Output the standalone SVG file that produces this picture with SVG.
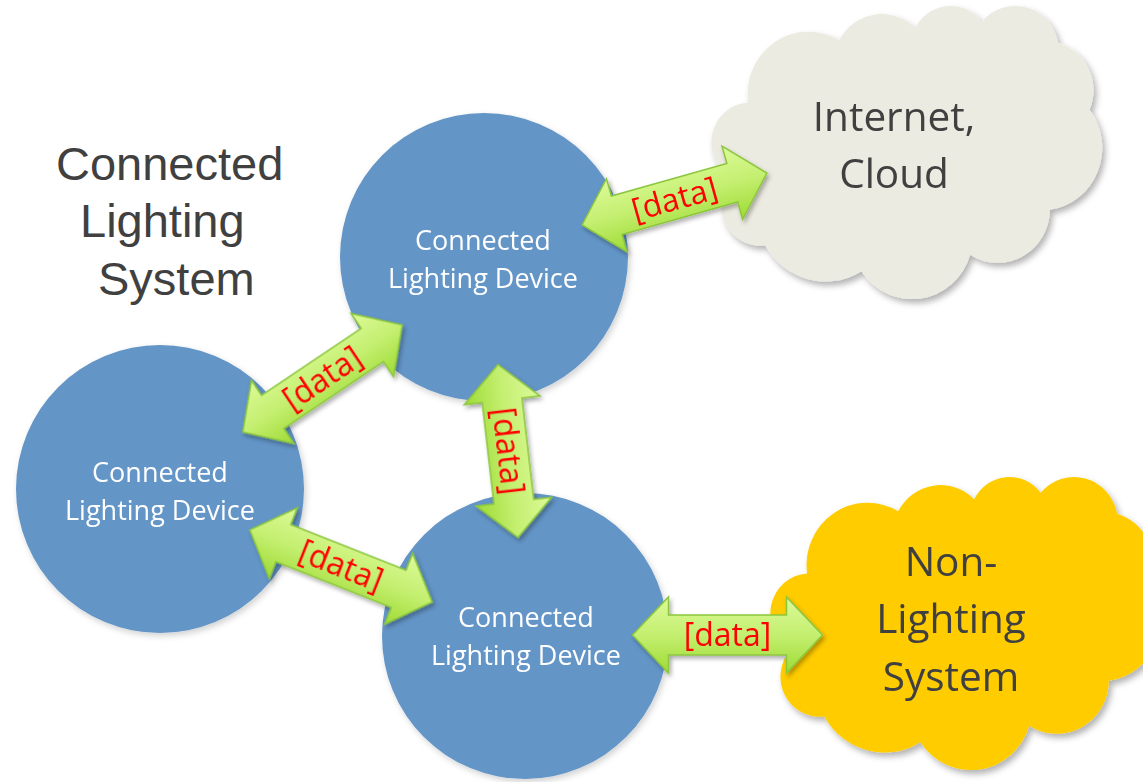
<svg xmlns="http://www.w3.org/2000/svg" xmlns:xlink="http://www.w3.org/1999/xlink" width="1143" height="782" viewBox="0 0 1143 782">
  <style>
    .device { fill: #6395c7; }
    .devtxt { font-family: "Open Sans", "Noto Sans", sans-serif; font-size: 27px; fill: #ffffff; text-anchor: middle; }
    .title { font-family: "Liberation Sans", Arial, sans-serif; font-size: 47px; fill: #404040; }
    .cloudtxt { font-family: "Open Sans", "Noto Sans", sans-serif; font-size: 40.5px; fill: #404040; text-anchor: middle; }
    .arrow { fill: url(#arrowFill); stroke: #8cc63e; stroke-width: 1.5; stroke-linejoin: miter; }
    .lbl { font-family: "Open Sans", "Noto Sans", sans-serif; font-size: 32px; fill: #ff0000; text-anchor: middle; }
  </style>
  <defs>
    <linearGradient id="arrowFill" x1="0" y1="0" x2="0" y2="1">
      <stop offset="0" stop-color="#dcfa98"/>
      <stop offset="0.5" stop-color="#c4ef70"/>
      <stop offset="1" stop-color="#9edb34"/>
    </linearGradient>
    <filter id="softShadow" x="-10%" y="-10%" width="125%" height="125%">
      <feDropShadow dx="3" dy="4" stdDeviation="3" flood-color="#000000" flood-opacity="0.3"/>
    </filter>
    <filter id="faintShadow" x="-10%" y="-10%" width="125%" height="125%">
      <feDropShadow dx="2" dy="3" stdDeviation="3" flood-color="#000000" flood-opacity="0.18"/>
    </filter>
    <filter id="arrowShadow" x="-10%" y="-10%" width="125%" height="125%">
      <feDropShadow dx="2" dy="3" stdDeviation="2" flood-color="#000000" flood-opacity="0.3"/>
    </filter>
    <!-- cloud outline, 389 x 293 box -->
    <path id="cloud" d="M35.12 97.46
      A60.81 62.33 0 0 1 126.12 35.29
      A48.02 49.29 0 0 1 202.23 23.28
      A39.31 40.32 0 0 1 268.65 16.81
      A43.74 44.73 0 0 1 345.05 37.80
      A48.02 49.33 0 0 1 376.57 104.84
      A61.01 62.53 0 0 1 336.84 204.85
      A52.09 53.36 0 0 1 257.16 249.68
      A60.80 62.50 0 0 1 148.43 266.33
      A69.52 71.51 0 0 1 52.29 240.58
      A39.26 40.14 0 0 1 19.04 173.30
      A39.13 40.32 0 0 1 35.12 97.46 Z"/>
  </defs>

  <rect width="1143" height="782" fill="#ffffff"/>

  <!-- title -->
  <g id="system-title">
    <text class="title" x="56" y="180">Connected</text>
    <text class="title" x="80" y="237">Lighting</text>
    <text class="title" x="98" y="295">System</text>
  </g>

  <!-- external systems -->
  <g id="cloud-internet" filter="url(#softShadow)">
    <use xlink:href="#cloud" href="#cloud" x="713" y="5" fill="#ecebe1"/>
    <text class="cloudtxt" x="894" y="131">Internet,</text>
    <text class="cloudtxt" x="894" y="188">Cloud</text>
  </g>

  <g id="cloud-nonlighting" filter="url(#softShadow)">
    <use xlink:href="#cloud" href="#cloud" x="772" y="476" fill="#ffcc00"/>
    <text class="cloudtxt" x="951" y="576">Non-</text>
    <text class="cloudtxt" x="951" y="633">Lighting</text>
    <text class="cloudtxt" x="951" y="691">System</text>
  </g>

  <!-- lighting devices -->
  <g id="device-top" filter="url(#faintShadow)">
    <circle class="device" cx="484" cy="257" r="144"/>
    <text class="devtxt" x="483" y="250">Connected</text>
    <text class="devtxt" x="483" y="288">Lighting Device</text>
  </g>

  <g id="device-left" filter="url(#faintShadow)">
    <circle class="device" cx="160" cy="489" r="144"/>
    <text class="devtxt" x="160" y="482">Connected</text>
    <text class="devtxt" x="160" y="520">Lighting Device</text>
  </g>

  <g id="device-bottom" filter="url(#faintShadow)">
    <circle class="device" cx="525" cy="636" r="143"/>
    <text class="devtxt" x="526" y="627">Connected</text>
    <text class="devtxt" x="526" y="665">Lighting Device</text>
  </g>

  <!-- bidirectional data links -->
  <g id="connectors" filter="url(#arrowShadow)">
    <g id="link-top-internet" transform="translate(674.5 199) rotate(-15.7)">
      <path class="arrow" d="M-96 0 L-60 -38 L-60 -20 L60 -20 L60 -38 L96 0 L60 38 L60 20 L-60 20 L-60 38 Z"/>
      <text class="lbl" x="0" y="11">[data]</text>
    </g>
    <g id="link-left-top" transform="translate(322.5 378.5) rotate(-33.9)">
      <path class="arrow" d="M-96 0 L-60 -38 L-60 -20 L60 -20 L60 -38 L96 0 L60 38 L60 20 L-60 20 L-60 38 Z"/>
      <text class="lbl" x="0" y="11">[data]</text>
    </g>
    <g id="link-top-bottom" transform="translate(508 451) rotate(83.4)">
      <path class="arrow" d="M-87 0 L-51 -38 L-51 -20 L51 -20 L51 -38 L87 0 L51 38 L51 20 L-51 20 L-51 38 Z"/>
      <text class="lbl" x="0" y="11">[data]</text>
    </g>
    <g id="link-left-bottom" transform="translate(341 566) rotate(21.6)">
      <path class="arrow" d="M-98 0 L-62 -38 L-62 -20 L62 -20 L62 -38 L98 0 L62 38 L62 20 L-62 20 L-62 38 Z"/>
      <text class="lbl" x="0" y="11">[data]</text>
    </g>
    <g id="link-bottom-nonlighting" transform="translate(727.5 635)">
      <path class="arrow" d="M-95 0 L-59 -38 L-59 -20 L59 -20 L59 -38 L95 0 L59 38 L59 20 L-59 20 L-59 38 Z"/>
      <text class="lbl" x="0" y="11">[data]</text>
    </g>
  </g>
</svg>
